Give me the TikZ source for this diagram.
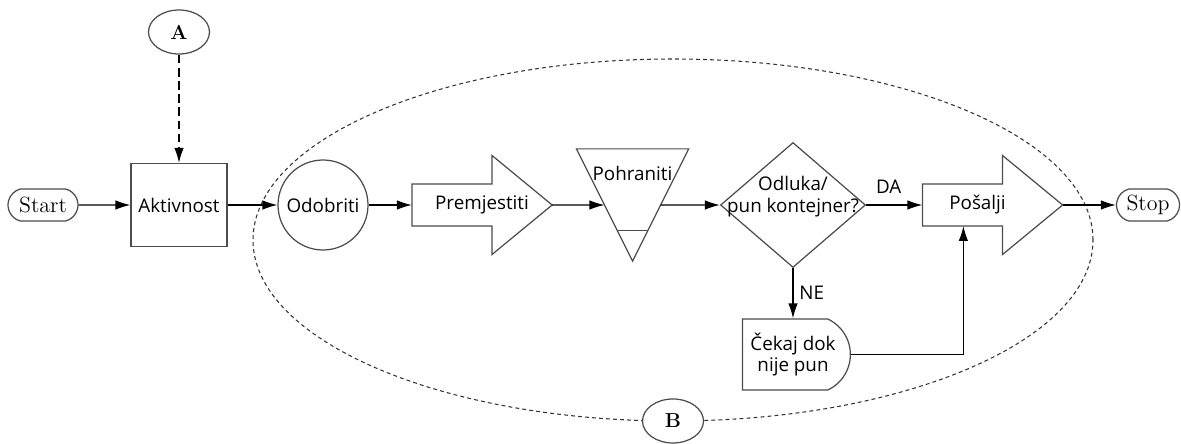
\documentclass[tikz,border=0pt]{standalone}
\usepackage{fontspec}
\setsansfont{Open Sans}
\usetikzlibrary{shapes.geometric,shapes.misc,arrows.meta,calc}

% outline of a transport arrow round a node
\newcommand{\transportoutline}[1]{%
	\draw[black!70] ([yshift=-0.42cm]#1.west) -- ([yshift=0.42cm]#1.west) -- ([xshift=1.6cm,yshift=0.42cm]#1.west) -- ([xshift=1.6cm]#1.north west) -- (#1.east) -- ([xshift=1.6cm]#1.south west) -- ([xshift=1.6cm,yshift=-0.42cm]#1.west) -- cycle;}

\begin{document}
\begin{tikzpicture}[font=\sffamily\fontsize{10.7}{12.5}\selectfont,line width=0.7pt,
	flow/.style={-{Latex[length=3mm,width=1.9mm]}},
	shapebox/.style={draw=black!70,fill=white,inner sep=0pt,align=center},
	terminal/.style={shapebox,rounded rectangle,rounded rectangle arc length=150,minimum height=0.64cm,font=\rmfamily\fontsize{12.5}{14}\selectfont},
	offpage/.style={shapebox,ellipse,minimum width=1.22cm,minimum height=0.88cm,font=\rmfamily\bfseries\fontsize{11.5}{13}\selectfont},
	transport/.style={inner sep=0pt,minimum width=2.78cm,minimum height=1.96cm},
	decisionbox/.style={shapebox,diamond,minimum width=2.9cm,minimum height=2.5cm},
	delaybox/.style={shapebox,rounded rectangle,rounded rectangle left arc=none,rounded rectangle arc length=130,minimum width=2.16cm,minimum height=1.42cm}]
	\useasboundingbox (0,0) rectangle (23.62,8.86);

	%boundary
	\draw[black!80,line width=0.6pt,dash pattern=on 2.2pt off 1.8pt] (13.46,4.06) ellipse [x radius=8.4,y radius=3.62];

	%nodes
	\node[terminal,minimum width=1.4cm] (start) at (0.86,4.76) {Start};
	\node[offpage] (a) at (3.58,8.22) {A};
	\node[shapebox,minimum width=1.92cm,minimum height=1.66cm] (akt) at (3.58,4.76) {Aktivnost};
	\node[shapebox,circle,minimum size=1.8cm] (odo) at (6.46,4.76) {Odobriti};
	\node[transport] (prem) at (9.64,4.76) {Premjestiti};
	\node[minimum size=2.22cm,inner sep=0pt] (pohr) at (12.65,4.76) {};
	\node[decisionbox,label={[align=center,yshift=0.16cm]center:Odluka/\\pun kontejner?}] (odl) at (15.86,4.76) {};
	\node[transport,label={[xshift=-0.3cm]center:Pošalji}] (pos) at (19.85,4.76) {};
	\node[terminal,minimum width=1.26cm] (stop) at (22.96,4.76) {Stop};
	\node[delaybox] (cek) at (15.86,1.77) {Čekaj dok\\nije pun};
	\node[offpage] (b) at (13.46,0.44) {B};

	%shapes
	\transportoutline{prem}
	\transportoutline{pos}
	\draw[black!70] (pohr.north west) -- (pohr.north east) -- (pohr.south) -- cycle;
	\draw[black!70] ($(pohr.north west)!0.73!(pohr.south)$) -- ($(pohr.north east)!0.73!(pohr.south)$);
	\node[below=0.22cm] (pohrtxt) at (pohr.north) {Pohraniti};
	\coordinate (pohrin) at ($(pohr.north west)!0.5!(pohr.south)$);
	\coordinate (pohrout) at ($(pohr.north east)!0.5!(pohr.south)$);
	\coordinate (posin) at ([xshift=0.82cm,yshift=-0.42cm]pos.west);

	%arrows
	\draw[flow] (start) -- (akt);
	\draw[flow,dash pattern=on 5pt off 2.5pt] (a) -- (akt);
	\draw[flow] (akt) -- (odo);
	\draw[flow] (odo) -- (prem.west);
	\draw[flow] (prem.east) -- (pohrin);
	\draw[flow] (pohrout) -- (odl.west);
	\draw[flow] (odl.east) -- node[above=1mm,pos=0.4] {DA} (pos.west);
	\draw[flow] (pos.east) -- (stop);
	\draw[flow] (odl.south) -- node[right] {NE} (cek.north);
	\draw[flow] (cek.east) -| (posin);
\end{tikzpicture}
\end{document}
